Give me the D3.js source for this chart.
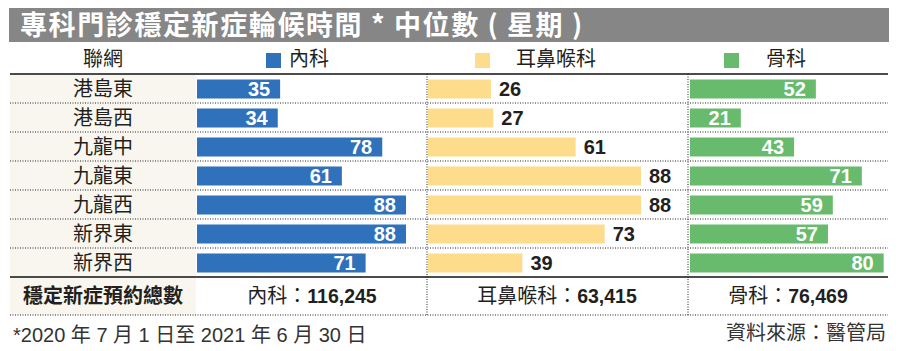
<!DOCTYPE html>
<html><head><meta charset="utf-8">
<script src="https://cdn.jsdelivr.net/npm/d3@7/dist/d3.min.js"></script>
<style>
html,body{margin:0;padding:0;background:#fff;}
svg{display:block;}
text{font-family:"Liberation Sans",Arial,"Noto Sans CJK TC",sans-serif;}
.cjk{font-family:"Noto Sans CJK TC","Liberation Sans",sans-serif;}
</style></head>
<body>
<svg id="chart" width="900" height="351"></svg>
<script>
const title = "專科門診穩定新症輪候時間 * 中位數 ( 星期 )";
const regionHeader = "聯網";
const regions = ["港島東","港島西","九龍中","九龍東","九龍西","新界東","新界西"];
const seriesNames = ["內科","耳鼻喉科","骨科"];
const internalMed = [35,34,78,61,88,88,71];
const ent = [26,27,61,88,88,73,39];
const ortho = [52,21,43,71,59,57,80];
const totalLabel = "穩定新症預約總數";
const totals = [116245,63415,76469];
const footnote = "*2020 年 7 月 1 日至 2021 年 6 月 30 日";
const source = "資料來源：醫管局";

const colors = ["#2f71bb","#fddc8c","#68bb6d"];
const labelInside = [true,false,true];
const series = [internalMed, ent, ortho];

const svg = d3.select("#chart");
const L = 10, R = 888;
const rowTop = 74, rowH = 29;
const totalTop = rowTop + rowH*regions.length, totalBottom = totalTop + 38;
const textColor = "#231f20";

// title bar
svg.append("rect").attr("x",L-1).attr("y",8).attr("width",R-L+2).attr("height",34).attr("fill","#868686");
svg.append("text").attr("class","cjk").attr("x",20).attr("y",25).attr("dy","0.36em")
  .attr("fill","#fff").attr("font-weight","bold").attr("font-size",27).attr("letter-spacing",1.6).text(title);

// left cream column
svg.append("rect").attr("x",L).attr("y",rowTop).attr("width",196-L).attr("height",totalBottom-rowTop).attr("fill","#f8f6ee");

// row band scale
const y = d3.scaleBand().domain(regions).range([rowTop,totalTop]).paddingInner(0).paddingOuter(0);

// panels
const panels = [{x0:197, w:209},{x0:428, w:213},{x0:690, w:213}];
const dom = [0, 88];

// row separators
regions.slice(1).forEach(r=>{
  svg.append("line").attr("x1",L).attr("x2",R).attr("y1",y(r)).attr("y2",y(r))
    .attr("stroke","#222").attr("stroke-width",1).attr("stroke-dasharray","1,1.5");
});
svg.append("line").attr("x1",L).attr("x2",R).attr("y1",totalBottom).attr("y2",totalBottom)
  .attr("stroke","#222").attr("stroke-width",1).attr("stroke-dasharray","1,1.5");
[427,688].forEach(xv=>{
  svg.append("line").attr("x1",xv).attr("x2",xv).attr("y1",rowTop).attr("y2",totalBottom)
    .attr("stroke","#222").attr("stroke-width",1).attr("stroke-dasharray","1,1.5");
});

// header
svg.append("text").attr("class","cjk").attr("x",103).attr("y",59).attr("dy","0.36em").attr("text-anchor","middle")
  .attr("font-size",20).attr("fill",textColor).text(regionHeader);
const legendX = [{sq:266,tx:289},{sq:475,tx:516},{sq:724,tx:766}];
seriesNames.forEach((n,i)=>{
  svg.append("rect").attr("x",legendX[i].sq).attr("y",53).attr("width",15).attr("height",15).attr("fill",colors[i]);
  svg.append("text").attr("class","cjk").attr("x",legendX[i].tx).attr("y",59).attr("dy","0.36em")
    .attr("font-size",20).attr("fill",textColor).text(n);
});

// region labels
svg.selectAll(".rl").data(regions).join("text").attr("class","cjk")
  .attr("x",103).attr("y",d=>y(d)+y.bandwidth()/2).attr("dy","0.36em").attr("text-anchor","middle")
  .attr("font-size",20).attr("fill",textColor).text(d=>d);

// bars
const barH = 19;
series.forEach((vals,i)=>{
  const p = panels[i];
  const x = d3.scaleLinear().domain(dom).range([p.x0, p.x0 + p.w]);
  const g = svg.append("g");
  g.selectAll("rect").data(vals).join("rect")
    .attr("x",x(0)).attr("y",(d,j)=>y(regions[j])+(y.bandwidth()-barH)/2+0.5)
    .attr("width",d=>x(d)-x(0)).attr("height",barH).attr("fill",colors[i]);
  g.selectAll("text").data(vals).join("text")
    .attr("x",d=>labelInside[i] ? x(d)-10 : x(d)+8)
    .attr("y",(d,j)=>y(regions[j])+y.bandwidth()/2+7.5)
    .attr("text-anchor",labelInside[i]?"end":"start")
    .attr("font-weight","bold").attr("font-size",20)
    .attr("fill",labelInside[i]?"#fff":textColor).text(d=>d);
});

// black lines
svg.append("line").attr("x1",L).attr("x2",R).attr("y1",rowTop).attr("y2",rowTop).attr("stroke","#111").attr("stroke-width",1.5);
svg.append("line").attr("x1",L).attr("x2",R).attr("y1",totalTop).attr("y2",totalTop).attr("stroke","#111").attr("stroke-width",1.5);

// totals row
const ty = (totalTop+totalBottom)/2;
svg.append("text").attr("class","cjk").attr("x",103).attr("y",ty).attr("dy","0.36em").attr("text-anchor","middle")
  .attr("font-size",20).attr("font-weight","bold").attr("fill",textColor).text(totalLabel);
const fmt = d3.format(",");
const totalCenters = [312,557,788];
seriesNames.forEach((n,i)=>{
  const t = svg.append("text").attr("x",totalCenters[i]).attr("y",ty).attr("dy","0.36em").attr("text-anchor","middle")
    .attr("font-size",20).attr("fill",textColor);
  t.append("tspan").attr("class","cjk").text(n+"：");
  t.append("tspan").attr("font-weight","bold").attr("font-size",19.5).text(fmt(totals[i]));
});

// footer
svg.append("text").attr("x",13).attr("y",335).attr("dy","0.36em").attr("font-size",20).attr("fill","#333").text(footnote);
svg.append("text").attr("class","cjk").attr("x",886).attr("y",333).attr("dy","0.36em").attr("text-anchor","end")
  .attr("font-size",20).attr("fill","#333").text(source);
</script>
</body></html>
